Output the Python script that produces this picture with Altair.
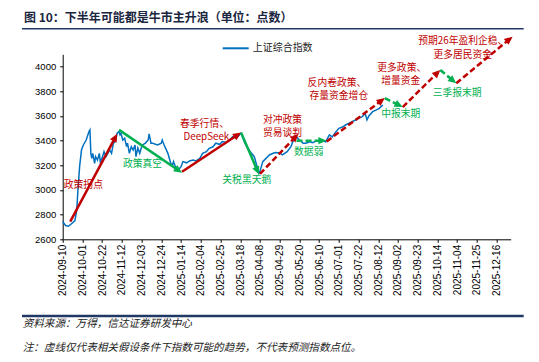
import math
import altair as alt
import pandas as pd

# ---------------- data ----------------
series_name = "上证综合指数"
line_dates = [
    "2024-09-10", "2024-09-13", "2024-09-16", "2024-09-20", "2024-09-23", "2024-09-25",
    "2024-09-26", "2024-09-28", "2024-09-30", "2024-10-02", "2024-10-05", "2024-10-08",
    "2024-10-09", "2024-10-10", "2024-10-11", "2024-10-12", "2024-10-14", "2024-10-15",
    "2024-10-17", "2024-10-19", "2024-10-20", "2024-10-22", "2024-10-24", "2024-10-26",
    "2024-10-28", "2024-10-30", "2024-11-01", "2024-11-03", "2024-11-05", "2024-11-07",
    "2024-11-09", "2024-11-10", "2024-11-11", "2024-11-13", "2024-11-15", "2024-11-17",
    "2024-11-18", "2024-11-20", "2024-11-22", "2024-11-24", "2024-11-26", "2024-11-27",
    "2024-11-29", "2024-12-01", "2024-12-03", "2024-12-04", "2024-12-07", "2024-12-10",
    "2024-12-11", "2024-12-13", "2024-12-15", "2024-12-18", "2024-12-20", "2024-12-24",
    "2024-12-25", "2024-12-27", "2024-12-31", "2025-01-03", "2025-01-05", "2025-01-06",
    "2025-01-08", "2025-01-11", "2025-01-14", "2025-01-16", "2025-01-20", "2025-01-23",
    "2025-01-27", "2025-01-30", "2025-02-03", "2025-02-06", "2025-02-10", "2025-02-13",
    "2025-02-17", "2025-02-20", "2025-02-24", "2025-02-27", "2025-03-03", "2025-03-07",
    "2025-03-10", "2025-03-14", "2025-03-17", "2025-03-19", "2025-03-23", "2025-03-26",
    "2025-03-30", "2025-04-02", "2025-04-05", "2025-04-07", "2025-04-08", "2025-04-11",
    "2025-04-15", "2025-04-18", "2025-04-22", "2025-04-25", "2025-04-29", "2025-05-02",
    "2025-05-07", "2025-05-11", "2025-05-13", "2025-05-17", "2025-05-20", "2025-05-24",
    "2025-05-27", "2025-05-31", "2025-06-03", "2025-06-07", "2025-06-10", "2025-06-14",
    "2025-06-17", "2025-06-21", "2025-06-24", "2025-06-28", "2025-07-01", "2025-07-05",
    "2025-07-08", "2025-07-12", "2025-07-15", "2025-07-19", "2025-07-22", "2025-07-26",
    "2025-07-29", "2025-07-31", "2025-08-02", "2025-08-06", "2025-08-10", "2025-08-13",
    "2025-08-17",
]
line_values = [
    2745, 2712, 2706, 2730, 2752, 2838,
    2973, 3189, 3324, 3365, 3405, 3473,
    3487, 3297, 3257, 3297, 3216, 3270,
    3243, 3297, 3230, 3260, 3311, 3270,
    3297, 3324, 3297, 3379, 3392, 3460,
    3473, 3448, 3460, 3405, 3420, 3351,
    3380, 3297, 3351, 3324, 3365, 3270,
    3340, 3297, 3351, 3365, 3380, 3405,
    3454, 3379, 3379, 3370, 3365, 3379,
    3405, 3365, 3297, 3216, 3203, 3230,
    3189, 3162, 3189, 3230, 3220, 3235,
    3243, 3235, 3257, 3297, 3310, 3338,
    3350, 3379, 3370, 3392, 3385, 3405,
    3432, 3420, 3446, 3460, 3379, 3340,
    3297, 3270, 3189, 3135, 3149, 3230,
    3260, 3284, 3297, 3303, 3300, 3284,
    3311, 3351, 3392, 3432, 3405, 3379,
    3379, 3390, 3384, 3397, 3400, 3405,
    3390, 3446, 3430, 3473, 3500, 3510,
    3527, 3541, 3554, 3567, 3581, 3595,
    3622, 3568, 3600, 3635, 3649, 3662,
    3689,
]

# trend arrows (solid = happened, dashed = hypothetical)
arrow_start_dates = ["2024-09-18", "2024-11-09", "2025-01-15", "2025-03-19", "2025-04-08",
                     "2025-05-17", "2025-06-18", "2025-08-19", "2025-09-07", "2025-10-17",
                     "2025-11-03"]
arrow_start_values = [2743, 3487, 3148, 3465, 3130, 3400, 3393, 3745, 3672, 3973, 3865]
arrow_end_dates = ["2024-11-07", "2025-01-15", "2025-03-19", "2025-04-07", "2025-05-19",
                   "2025-06-18", "2025-08-19", "2025-09-07", "2025-10-17", "2025-11-03",
                   "2026-01-02"]
arrow_end_values = [3455, 3140, 3465, 3125, 3455, 3400, 3745, 3672, 3973, 3865, 4243]
arrow_kinds = ["up", "down", "up", "down", "up", "down", "up", "down", "up", "down", "up"]
arrow_dashed = [False, False, False, False, True, True, True, True, True, True, True]

# annotation labels
note_texts = ["政策拐点", "政策真空", "春季行情、", "DeepSeek", "关税黑天鹅",
              "对冲政策", "贸易谈判", "数据弱", "反内卷政策、", "存量资金增仓",
              "中报末期", "更多政策、", "增量资金", "三季报末期",
              "预期26年盈利企稳、", "更多居民资金"]
note_dates = ["2024-10-02", "2024-12-04", "2025-02-08", "2025-02-10", "2025-03-25",
              "2025-05-02", "2025-05-02", "2025-05-30", "2025-06-29", "2025-07-01",
              "2025-09-05", "2025-09-06", "2025-09-05", "2025-11-04",
              "2025-11-10", "2025-11-10"]
note_values = [3041, 3211, 3535, 3430, 3081,
               3570, 3465, 3311, 3870, 3764,
               3614, 3990, 3884, 3784,
               4205, 4093]
note_kinds = ["up", "down", "up", "up", "down",
              "up", "up", "down", "up", "up",
              "down", "up", "up", "down",
              "up", "up"]

y_ticks = [2600, 2800, 3000, 3200, 3400, 3600, 3800, 4000]
x_tick_dates = ["2024-09-10", "2024-10-01", "2024-10-22", "2024-11-12", "2024-12-03",
                "2024-12-24", "2025-01-14", "2025-02-04", "2025-02-25", "2025-03-18",
                "2025-04-08", "2025-04-29", "2025-05-20", "2025-06-10", "2025-07-01",
                "2025-07-22", "2025-08-12", "2025-09-02", "2025-09-23", "2025-10-14",
                "2025-11-04", "2025-11-25", "2025-12-16"]

title_text = "图 10：下半年可能都是牛市主升浪（单位：点数）"
source_text = "资料来源：万得，信达证券研发中心"
footnote_text = "注：虚线仅代表相关假设条件下指数可能的趋势，不代表预测指数点位。"

# ---------------- style ----------------
W, H = 448, 185
X_START, X_END = "2024-09-10", "2025-12-31"
Y_MIN, Y_MAX = 2600, 4100
RED, GREEN, BLUE = "#C00000", "#00B050", "#0070C0"
NAVY = "#1F3864"
CJK = "Noto Sans CJK SC"
LATIN = "Liberation Sans"
ARROW = "M0,0L1,2.2L-1,2.2Z"


def iso(t):
    return pd.Timestamp(t).strftime("%Y-%m-%dT%H:%M:%S") + "Z"


def dt(s):
    t = pd.Timestamp(s)
    return alt.DateTime(year=t.year, month=t.month, date=t.day, utc=True)


x_scale = alt.Scale(type="utc", domain=[dt(X_START), dt(X_END)])
y_scale = alt.Scale(domain=[Y_MIN, Y_MAX], zero=False, nice=False)

x_axis = alt.Axis(values=[dt(d) for d in x_tick_dates], format="%Y-%m-%d",
                  labelAngle=270, labelFont=LATIN, labelFontSize=10, labelColor="black",
                  tickSize=3, tickColor="black", domainColor="black", labelPadding=2,
                  grid=False, title=None, labelOverlap=False, labelFlush=False,
                  labelBound=False)
y_axis = alt.Axis(values=y_ticks, format="d", labelFont=LATIN, labelFontSize=9.5,
                  labelColor="black", tickSize=3, tickColor="black", domainColor="black",
                  labelPadding=4, grid=False, title=None, labelOverlap=False,
                  labelBound=False, labelFlush=False)

line_df = pd.DataFrame({"date": [iso(d) for d in line_dates],
                        "value": line_values,
                        "series": series_name})

# arrows geometry (arrow line stops slightly behind the head tip)
t0, t1 = pd.Timestamp(X_START), pd.Timestamp(X_END)
px_day = W / ((t1 - t0) / pd.Timedelta(days=1))
px_val = H / (Y_MAX - Y_MIN)
rows = []
for sd, sv, ed, ev, kind, dashed in zip(arrow_start_dates, arrow_start_values,
                                        arrow_end_dates, arrow_end_values,
                                        arrow_kinds, arrow_dashed):
    s, e = pd.Timestamp(sd), pd.Timestamp(ed)
    dx = (e - s) / pd.Timedelta(days=1) * px_day
    dy = (ev - sv) * px_val
    L = math.hypot(dx, dy)
    back = 4.0
    e_line = e - pd.Timedelta(days=back * dx / L / px_day)
    v_line = ev - back * dy / L / px_val
    rows.append({"date": iso(s), "value": sv, "date2": iso(e_line), "value2": v_line,
                 "tip": iso(e), "tipv": ev,
                 "angle": math.degrees(math.atan2(dx, dy)) % 360,
                 "kind": kind, "dashed": dashed})
arrow_df = pd.DataFrame(rows)

notes_df = pd.DataFrame({"date": [iso(d) for d in note_dates], "value": note_values,
                         "text": note_texts, "kind": note_kinds})


# every layer carries the identical axis definition so they merge cleanly
def X(field="date"):
    return alt.X(f"{field}:T", scale=x_scale, axis=x_axis, title=None)


def Y(field="value"):
    return alt.Y(f"{field}:Q", scale=y_scale, axis=y_axis, title=None)


line = alt.Chart(line_df).mark_line(strokeWidth=1.5).encode(
    x=X(), y=Y(),
    color=alt.Color("series:N", scale=alt.Scale(range=[BLUE]),
                    legend=alt.Legend(orient="none", legendX=159, legendY=-20, title=None,
                                      symbolType="stroke", symbolSize=676,
                                      symbolStrokeWidth=2, labelFont=CJK,
                                      labelFontSize=10, labelColor="#222222",
                                      labelOffset=3, padding=0)),
)

layers = [line]
for kind, col in (("up", RED), ("down", GREEN)):
    layers.append(
        alt.Chart(notes_df).transform_filter(alt.datum.kind == kind)
        .mark_text(font=CJK, fontSize=9.8, color=col, align="center", baseline="middle")
        .encode(x=X(), y=Y(), text="text:N")
    )
for kind, col in (("up", RED), ("down", GREEN)):
    for dashed in (False, True):
        props = dict(strokeWidth=2.5, color=col)
        if dashed:
            props["strokeDash"] = [6, 3]
        layers.append(
            alt.Chart(arrow_df).transform_filter(
                (alt.datum.kind == kind) & (alt.datum.dashed == dashed))
            .mark_rule(**props)
            .encode(x=X(), y=Y(), x2="date2:T", y2="value2:Q")
        )
    layers.append(
        alt.Chart(arrow_df).transform_filter(alt.datum.kind == kind)
        .mark_point(shape=ARROW, size=56, filled=True, opacity=1, strokeWidth=0, color=col)
        .encode(x=X("tip"), y=Y("tipv"), angle=alt.Angle("angle:Q", scale=None))
    )

# decorations: rules and footer texts
one = pd.DataFrame({"a": [0]})
layers.append(alt.Chart(one).mark_rule(color=NAVY, strokeWidth=1.5).encode(
    x=alt.value(-40.7), x2=alt.value(461), y=alt.value(-25.6)))
layers.append(alt.Chart(one).mark_rule(color=NAVY, strokeWidth=2.5).encode(
    x=alt.value(-40.7), x2=alt.value(461), y=alt.value(261.7)))
src_df = pd.DataFrame({"t": [source_text]})
layers.append(alt.Chart(src_df).mark_text(align="left", baseline="middle", font=CJK,
                                          fontSize=10.6, fontStyle="italic", color="#222222")
              .encode(x=alt.value(-40), y=alt.value(269.7), text="t:N"))
fn_df = pd.DataFrame({"t": [footnote_text]})
layers.append(alt.Chart(fn_df).mark_text(align="left", baseline="middle", font=CJK,
                                         fontSize=10.6, fontStyle="italic", color="#222222")
              .encode(x=alt.value(-40), y=alt.value(293.7), text="t:N"))

chart = alt.layer(*layers).properties(
    width=W, height=H,
    title=alt.Title(title_text, anchor="start", frame="group", dx=-38.7, offset=3,
                    font=CJK, fontSize=12, fontWeight="bold", color="#1A2540"),
    autosize=alt.AutoSizeParams(type="none"),
    padding={"left": 54.7, "top": 46.3, "right": 15, "bottom": 114},
).configure_view(stroke=None).configure_axis(labelOverlap=False)

chart.save("out.html", embed_options={"renderer": "svg", "actions": False})
